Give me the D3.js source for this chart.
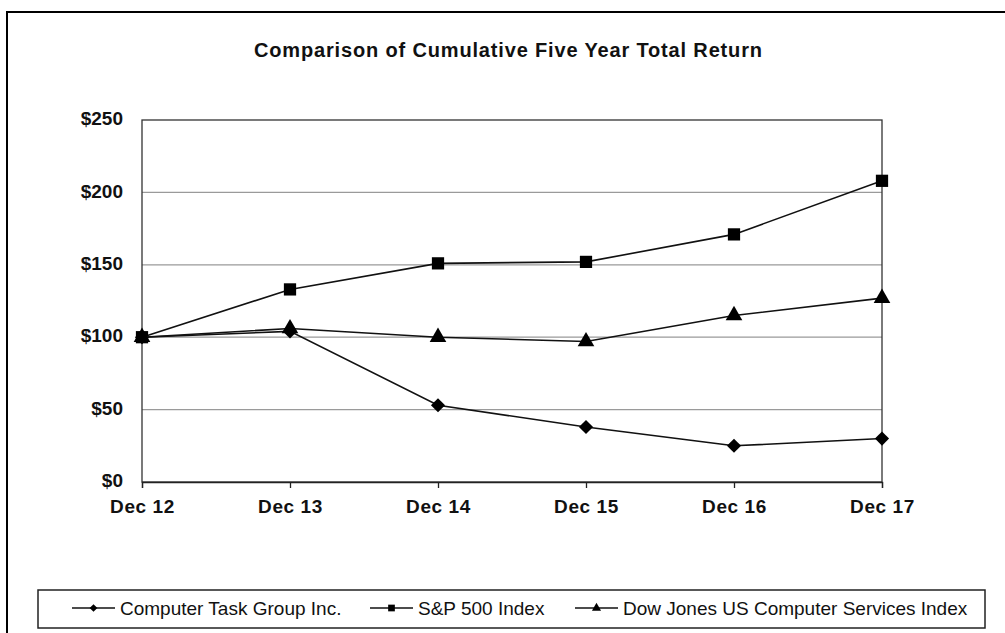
<!DOCTYPE html>
<html>
<head>
<meta charset="utf-8">
<script src="https://cdn.jsdelivr.net/npm/d3@7/dist/d3.min.js"></script>
<style>
  html, body { margin: 0; padding: 0; background: #fff; }
  svg { display: block; font-family: 'Liberation Sans', Arial, sans-serif; }
</style>
</head>
<body>
<div id="chart"></div>
<script>
// data
const periods = ['Dec 12', 'Dec 13', 'Dec 14', 'Dec 15', 'Dec 16', 'Dec 17'];
const ctgValues = [100, 104, 53, 38, 25, 30];
const spValues = [100, 133, 151, 152, 171, 208];
const djValues = [100, 106, 100, 97, 115, 127];
const yTicks = [0, 50, 100, 150, 200, 250];
const seriesNames = ['Computer Task Group Inc.', 'S&P 500 Index', 'Dow Jones US Computer Services Index'];

// diamond = square turned 45deg, like the spreadsheet marker
const series = [
    { name: seriesNames[0], values: ctgValues, shape: d3.symbolSquare, rotate: 45, size: 100 },
    { name: seriesNames[1], values: spValues, shape: d3.symbolSquare, rotate: 0, size: 150 },
    { name: seriesNames[2], values: djValues, shape: d3.symbolTriangle, rotate: 0, size: 120 }
];

const width = 1005, height = 633;
const margin = { top: 120, right: 123, bottom: 151, left: 142 };
const w = width - margin.left - margin.right;
const h = height - margin.top - margin.bottom;
const FONT = "'Liberation Sans', Arial, sans-serif";

const svg = d3.select('#chart').append('svg').attr('width', width).attr('height', height);

// outer frame
svg.append('rect')
    .attr('x', 7).attr('y', 12).attr('width', 1010).attr('height', 640)
    .attr('fill', 'none').attr('stroke', '#000').attr('stroke-width', 2);

svg.append('text')
    .attr('x', 508).attr('y', 57).attr('text-anchor', 'middle')
    .attr('font-size', 20).attr('font-weight', 700).attr('fill', '#111')
    .attr('textLength', 508).attr('lengthAdjust', 'spacing')
    .text('Comparison of Cumulative Five Year Total Return');

const g = svg.append('g').attr('transform', `translate(${margin.left},${margin.top})`);

const x = d3.scalePoint().domain(periods).range([0, w]);
const y = d3.scaleLinear().domain([0, 250]).range([h, 0]);

// gridlines
g.selectAll('.grid').data(yTicks.slice(1, -1)).enter().append('line')
    .attr('x1', 0).attr('x2', w)
    .attr('y1', d => y(d)).attr('y2', d => y(d))
    .attr('stroke', '#9a9a9a').attr('stroke-width', 1.2);

// plot box
g.append('rect').attr('x', 0).attr('y', 0).attr('width', w).attr('height', h)
    .attr('fill', 'none').attr('stroke', '#333').attr('stroke-width', 1.3);

// y axis labels
const yAxis = g.append('g').call(d3.axisLeft(y).tickValues(yTicks).tickSize(0).tickPadding(19).tickFormat(d => '$' + d));
yAxis.select('.domain').remove();
yAxis.selectAll('text').attr('font-size', 19).attr('font-weight', 700).attr('fill', '#111')
    .attr('font-family', FONT).attr('dy', '0.25em');

// x axis
const xAxis = g.append('g').attr('transform', `translate(0,${h})`)
    .call(d3.axisBottom(x).tickSize(6).tickPadding(12));
xAxis.select('.domain').attr('stroke', '#222').attr('stroke-width', 1.3);
xAxis.selectAll('line').attr('stroke', '#222').attr('stroke-width', 1.3);
xAxis.selectAll('text').attr('font-size', 19).attr('font-weight', 700).attr('fill', '#111')
    .attr('font-family', FONT).attr('letter-spacing', 0.6);

const line = d3.line().x((d, i) => x(periods[i])).y(d => y(d));

series.forEach(s => {
    g.append('path').datum(s.values)
        .attr('d', line).attr('fill', 'none')
        .attr('stroke', '#111').attr('stroke-width', 1.6);
    g.selectAll(null).data(s.values).enter().append('path')
        .attr('transform', (d, i) => `translate(${x(periods[i])},${y(d)}) rotate(${s.rotate})`)
        .attr('d', d3.symbol().type(s.shape).size(s.size))
        .attr('fill', '#000');
});

// legend
const legend = svg.append('g');
legend.append('rect')
    .attr('x', 38).attr('y', 590).attr('width', 947).attr('height', 38)
    .attr('fill', '#fff').attr('stroke', '#222').attr('stroke-width', 1.5);

const legendX = [72, 370, 575];
series.forEach((s, i) => {
    const lg = legend.append('g').attr('transform', `translate(${legendX[i]},608)`);
    lg.append('line').attr('x1', 0).attr('x2', 43).attr('stroke', '#111').attr('stroke-width', 1.5);
    lg.append('path').attr('transform', `translate(21.5,0) rotate(${s.rotate})`)
        .attr('d', d3.symbol().type(s.shape).size(s.size * 0.3)).attr('fill', '#000');
    lg.append('text').attr('x', 48).attr('dy', '0.35em')
        .attr('font-size', 19).attr('fill', '#111')
        .text(s.name);
});
</script>
</body>
</html>
